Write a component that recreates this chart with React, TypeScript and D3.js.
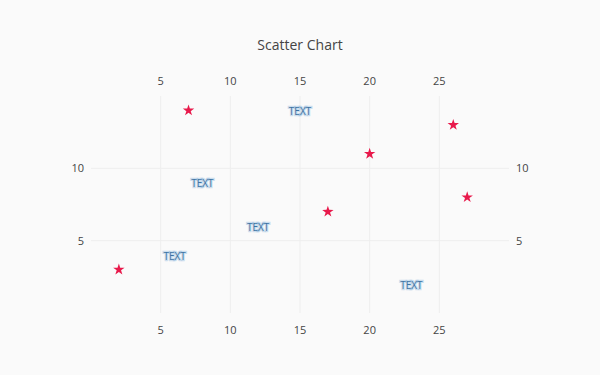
import React from "react";
import * as d3 from "d3";

const starX = [2, 7, 17, 20, 26, 27];
const starY = [3, 14, 7, 11, 13, 8];
const textX = [6, 8, 12, 15, 23];
const textY = [4, 9, 6, 14, 2];
const textLabels = ["TEXT", "TEXT", "TEXT", "TEXT", "TEXT"];
const xTicks = [5, 10, 15, 20, 25];
const yTicks = [5, 10];
const title = "Scatter Chart";

const W = 600;
const H = 375;
const L = 91, R = 509, T = 96, B = 313;
const FONT = '"Open Sans", verdana, arial, sans-serif';

function starPath(ro: number, ri: number): string {
  const pts: [number, number][] = [];
  for (let k = 0; k < 10; k++) {
    const a = -Math.PI / 2 + (k * Math.PI) / 5;
    const r = k % 2 === 0 ? ro : ri;
    pts.push([r * Math.cos(a), r * Math.sin(a)]);
  }
  return (d3.line()(pts) || "") + "Z";
}

export default function App() {
  const x = d3.scaleLinear().domain([0, 30]).range([L, R]);
  const y = d3.scaleLinear().domain([0, 15]).range([B, T]);
  const star = starPath(6, 2.3);
  return (
    <div style={{ position: "absolute", left: 0, top: 0 }}>
      <svg width={W} height={H} style={{ display: "block" }}>
        <rect width={W} height={H} fill="#fafafa" />
        <g>
          {xTicks.map((t) => (
            <line key={"gx" + t} x1={x(t)} x2={x(t)} y1={T} y2={B} stroke="#eeeeee" strokeWidth={1} />
          ))}
          {yTicks.map((t) => (
            <line key={"gy" + t} x1={L} x2={R} y1={y(t)} y2={y(t)} stroke="#eeeeee" strokeWidth={1} />
          ))}
        </g>
        <text x={W / 2} y={50} textAnchor="middle" fontFamily={FONT} fontSize={14} fill="#444">
          {title}
        </text>
        {xTicks.map((t) => (
          <g key={"tx" + t} fontFamily={FONT} fontSize={11} fill="#444" textAnchor="middle">
            <text x={x(t)} y={85}>{t}</text>
            <text x={x(t)} y={334}>{t}</text>
          </g>
        ))}
        {yTicks.map((t) => (
          <g key={"ty" + t} fontFamily={FONT} fontSize={11} fill="#444">
            <text x={84} y={y(t) + 4} textAnchor="end">{t}</text>
            <text x={516} y={y(t) + 4} textAnchor="start">{t}</text>
          </g>
        ))}
        {textX.map((v, i) => (
          <text
            key={"lbl" + i}
            x={x(v)}
            y={y(textY[i]) + 4.5}
            textAnchor="middle"
            fontFamily={FONT}
            fontSize={10}
            fill="#3d73a3"
            stroke="rgba(120,170,215,0.35)"
            strokeWidth={2.5}
            paintOrder="stroke"
          >
            {textLabels[i]}
          </text>
        ))}
        {starX.map((v, i) => (
          <path
            key={"s" + i}
            d={star}
            transform={`translate(${x(v)},${y(starY[i])})`}
            fill="#e8194b"
          />
        ))}
      </svg>
    </div>
  );
}
